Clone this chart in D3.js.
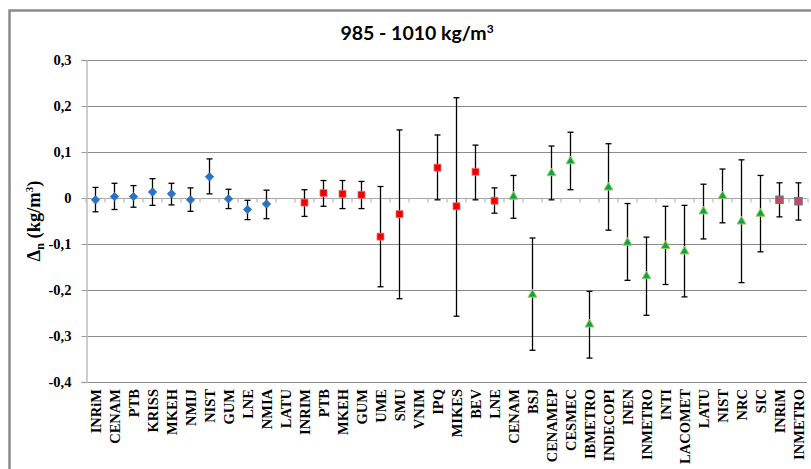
<!DOCTYPE html>
<html>
<head>
<meta charset="utf-8">
<script src="https://cdn.jsdelivr.net/npm/d3@7"></script>
<style>
  body { margin: 0; background: #fff; }
  svg { display: block; }
</style>
</head>
<body>
<div id="chart"></div>
<script>
const labels = ["INRiM", "CENAM", "PTB", "KRISS", "MKEH", "NMIJ", "NIST", "GUM", "LNE", "NMIA", "LATU",
  "INRIM", "PTB", "MKEH", "GUM", "UME", "SMU", "VNIM", "IPQ", "MIKES", "BEV", "LNE",
  "CENAM", "BSJ", "CENAMEP", "CESMEC", "IBMETRO", "INDECOPI", "INEN", "INMETRO", "INTI", "LACOMET", "LATU", "NIST", "NRC", "SIC",
  "INRiM", "INMETRO"];

// which series each participant belongs to
const groups = [0, 0, 0, 0, 0, 0, 0, 0, 0, 0, 0,
  1, 1, 1, 1, 1, 1, 1, 1, 1, 1, 1,
  2, 2, 2, 2, 2, 2, 2, 2, 2, 2, 2, 2, 2, 2,
  3, 3];

const values = [-0.004, 0.003, 0.003, 0.013, 0.009, -0.004, 0.046, -0.002, -0.025, -0.013, null,
  -0.010, 0.011, 0.009, 0.007, -0.084, -0.035, null, 0.066, -0.018, 0.057, -0.006,
  0.003, -0.210, 0.054, 0.080, -0.275, 0.023, -0.097, -0.170, -0.104, -0.116, -0.029, 0.004, -0.051, -0.034,
  -0.004, -0.007];

const upper = [0.023, 0.032, 0.027, 0.042, 0.032, 0.022, 0.085, 0.019, -0.005, 0.017, null,
  0.018, 0.038, 0.038, 0.036, 0.025, 0.148, null, 0.137, 0.218, 0.115, 0.022,
  0.049, -0.087, 0.113, 0.143, -0.203, 0.118, -0.012, -0.085, -0.018, -0.016, 0.030, 0.063, 0.083, 0.049,
  0.033, 0.033];

const lower = [-0.030, -0.025, -0.020, -0.016, -0.015, -0.029, 0.009, -0.023, -0.047, -0.045, null,
  -0.040, -0.018, -0.023, -0.023, -0.193, -0.219, null, -0.004, -0.257, -0.004, -0.033,
  -0.044, -0.331, -0.004, 0.018, -0.348, -0.070, -0.179, -0.255, -0.188, -0.215, -0.089, -0.054, -0.184, -0.117,
  -0.041, -0.048];

const yTicks = [-0.4, -0.3, -0.2, -0.1, 0, 0.1, 0.2, 0.3];

const W = 811, H = 469;
const margin = { top: 60, right: 3, bottom: 87, left: 86 };
const serif = "'Liberation Serif', 'Times New Roman', serif";

const svg = d3.select("#chart").append("svg").attr("width", W).attr("height", H);

// chart frame
svg.append("rect")
  .attr("x", 9.5).attr("y", 10.5)
  .attr("width", 830).attr("height", 500)
  .attr("fill", "#fff")
  .attr("stroke", "#8a8a8a")
  .attr("stroke-width", 2.5);

svg.append("text")
  .attr("x", 417).attr("y", 40)
  .attr("text-anchor", "middle")
  .style("font-family", "Lato, 'Open Sans', sans-serif")
  .style("font-weight", "bold")
  .style("font-size", "19.5px")
  .style("fill", "#000")
  .html("985 - 1010 kg/m<tspan dy='-7' style='font-size:12px'>3</tspan>");

const x = d3.scaleBand().domain(d3.range(labels.length)).range([margin.left, W - margin.right]);
const y = d3.scaleLinear().domain([-0.4, 0.3]).range([H - margin.bottom, margin.top]);

const fmt = (d) => d === 0 ? "0" : d3.format(".1f")(d).replace("−", "-").replace(".", ",");

// grid lines
svg.append("g")
  .selectAll("line")
  .data(yTicks.filter((d) => d !== 0))
  .join("line")
  .attr("x1", margin.left).attr("x2", W - margin.right - 1)
  .attr("y1", (d) => Math.round(y(d)) + 0.5).attr("y2", (d) => Math.round(y(d)) + 0.5)
  .attr("stroke", "#8c8c8c")
  .attr("stroke-width", 1.2);

// y axis
const yAxis = svg.append("g")
  .attr("transform", `translate(${margin.left + 0.5},0)`)
  .call(d3.axisLeft(y).tickValues(yTicks).tickFormat(fmt).tickSize(5).tickPadding(10));
yAxis.select(".domain").attr("stroke", "#bdbdbd").attr("stroke-width", 1.5);
yAxis.selectAll(".tick line").attr("stroke", "#9a9a9a");
yAxis.selectAll("text")
  .style("font-family", serif)
  .style("font-weight", "bold")
  .style("font-size", "14.5px")
  .style("fill", "#000");

// x axis at zero
const y0 = Math.round(y(0)) + 0.5;
svg.append("line")
  .attr("x1", margin.left).attr("x2", W - margin.right - 1)
  .attr("y1", y0).attr("y2", y0)
  .attr("stroke", "#a8a8a8")
  .attr("stroke-width", 1.2);
svg.append("g")
  .selectAll("line")
  .data(d3.range(labels.length + 1))
  .join("line")
  .attr("x1", (i) => margin.left + i * x.step())
  .attr("x2", (i) => margin.left + i * x.step())
  .attr("y1", y0).attr("y2", y0 + 4)
  .attr("stroke", "#c4c4c4")
  .attr("stroke-width", 1.5);

// category labels
svg.append("g")
  .selectAll("text")
  .data(labels)
  .join("text")
  .attr("transform", (d, i) => `translate(${x(i) + x.bandwidth() / 2},${H - margin.bottom + 7}) rotate(-90)`)
  .attr("text-anchor", "end")
  .attr("dy", "0.35em")
  .style("font-family", serif)
  .style("font-weight", "bold")
  .style("font-size", "14.5px")
  .style("fill", "#000")
  .text((d) => d);

// y axis title
svg.append("text")
  .attr("transform", `translate(40,${(margin.top + H - margin.bottom) / 2}) rotate(-90)`)
  .attr("text-anchor", "middle")
  .style("font-family", serif)
  .style("font-weight", "bold")
  .style("font-size", "18.5px")
  .style("fill", "#000")
  .html("Δ<tspan dy='4' style='font-size:12px'>n</tspan><tspan dy='-4'>  (kg/m</tspan><tspan dy='-7' style='font-size:11px'>3</tspan><tspan dy='7'>)</tspan>");

const points = d3.range(labels.length).filter((i) => values[i] !== null);
const cx = (i) => x(i) + x.bandwidth() / 2;

// error bars
const bars = svg.append("g").attr("stroke", "#000").attr("stroke-width", 1.3);
bars.selectAll(".v").data(points).join("line")
  .attr("x1", cx).attr("x2", cx)
  .attr("y1", (i) => y(upper[i])).attr("y2", (i) => y(lower[i]));
bars.selectAll(".t").data(points).join("line")
  .attr("x1", (i) => cx(i) - 3).attr("x2", (i) => cx(i) + 3)
  .attr("y1", (i) => y(upper[i])).attr("y2", (i) => y(upper[i]));
bars.selectAll(".b").data(points).join("line")
  .attr("x1", (i) => cx(i) - 3).attr("x2", (i) => cx(i) + 3)
  .attr("y1", (i) => y(lower[i])).attr("y2", (i) => y(lower[i]));

// markers per series
const markerStyle = [
  { type: d3.symbolDiamond2, size: 45, fill: "#2a72c4", stroke: "#2a72c4", sw: 0.8 },
  { type: d3.symbolSquare2, size: 62, fill: "#f20000", stroke: "#f07070", sw: 0.8 },
  { type: d3.symbolTriangle2, size: 58, fill: "#0aa54a", stroke: "#a6cd5a", sw: 1 },
  { type: d3.symbolSquare2, size: 68, fill: "#c0504d", stroke: "#8064a2", sw: 1.2 }
];

svg.append("g")
  .selectAll("path")
  .data(points)
  .join("path")
  .attr("transform", (i) => `translate(${cx(i)},${y(values[i])})`)
  .attr("d", (i) => d3.symbol().type(markerStyle[groups[i]].type).size(markerStyle[groups[i]].size)())
  .attr("fill", (i) => markerStyle[groups[i]].fill)
  .attr("stroke", (i) => markerStyle[groups[i]].stroke)
  .attr("stroke-width", (i) => markerStyle[groups[i]].sw);
</script>
</body>
</html>
